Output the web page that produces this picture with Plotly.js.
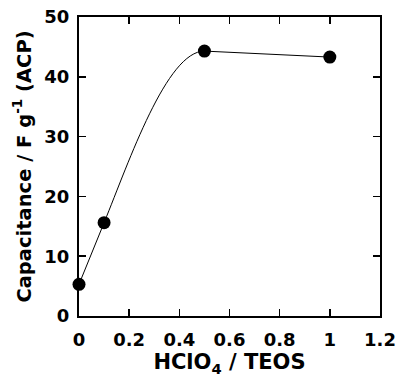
<!DOCTYPE html>
<html>
<head>
<meta charset="utf-8">
<script src="https://cdn.plot.ly/plotly-3.0.1.min.js"></script>
<style>html,body{margin:0;padding:0;background:#fff;}#chart{width:398px;height:382px;}</style>
</head>
<body>
<div id="chart"></div>
<script>
var ratio = [0, 0.1, 0.5, 1.0];
var capacitance = [5.3, 15.6, 44.3, 43.3];
var xTickVals = [0, 0.2, 0.4, 0.6, 0.8, 1, 1.2];
var xTickText = ['0', '0.2', '0.4', '0.6', '0.8', '1', '1.2'];
var yTickVals = [0, 10, 20, 30, 40, 50];
var yTickText = ['0', '10', '20', '30', '40', '50'];

var font = 'DejaVu Sans, sans-serif';
// straight segments at the ends
var head = {
  x: ratio.slice(0, 2), y: capacitance.slice(0, 2), type: 'scatter', mode: 'lines',
  line: {color: '#000', width: 1}, hoverinfo: 'none'
};
var tail = {
  x: ratio.slice(2), y: capacitance.slice(2), type: 'scatter', mode: 'lines',
  line: {color: '#000', width: 1}, hoverinfo: 'none'
};
var pts = {
  x: ratio, y: capacitance, type: 'scatter', mode: 'markers',
  marker: {size: 13, color: '#000'}, cliponaxis: false, hoverinfo: 'none'
};
// smooth bend between the 2nd and 3rd points: leaves point 2 along the first segment's direction,
// arrives at point 3 horizontally (data coordinates, scaled by the axes)
var p0 = [ratio[0], capacitance[0]], p1 = [ratio[1], capacitance[1]], p2 = [ratio[2], capacitance[2]];
var c1 = [p1[0] + (p1[0] - p0[0]), p1[1] + (p1[1] - p0[1])];
var c2 = [p2[0] - 0.375 * (p2[0] - p1[0]), p2[1]];
var bendPath = 'M' + p1[0] + ',' + p1[1] + ' C' + c1[0] + ',' + c1[1] + ' ' + c2[0] + ',' + c2[1] + ' ' + p2[0] + ',' + p2[1];

var axisCommon = {
  showgrid: false, zeroline: false, showline: true, linecolor: '#000', linewidth: 2,
  mirror: 'allticks', ticks: 'inside', ticklen: 7, tickwidth: 1.5, tickcolor: '#000',
  tickfont: {family: font, size: 18, color: '#000', weight: 'bold'}, tickmode: 'array'
};
var layout = {
  width: 398, height: 382,
  margin: {l: 79, r: 18, t: 17, b: 66},
  paper_bgcolor: '#fff', plot_bgcolor: '#fff', showlegend: false,
  shapes: [{type: 'path', xref: 'x', yref: 'y', path: bendPath, line: {color: '#000', width: 1}, layer: 'below'}],
  xaxis: Object.assign({}, axisCommon, {
    range: [0, 1.2], tickvals: xTickVals, ticktext: xTickText, ticklabelstandoff: 6,
    title: {text: 'HClO<sub>4</sub> / TEOS', font: {family: font, size: 21, color: '#000', weight: 'bold'}, standoff: 6}
  }),
  yaxis: Object.assign({}, axisCommon, {
    range: [0, 50], tickvals: yTickVals, ticktext: yTickText, ticklabelstandoff: 4,
    title: {text: 'Capacitance / F g<sup>-1</sup> (ACP)', font: {family: font, size: 19.5, color: '#000', weight: 'bold'}, standoff: 8}
  })
};
Plotly.newPlot('chart', [head, tail, pts], layout, {staticPlot: true, displayModeBar: false});
</script>
</body>
</html>
